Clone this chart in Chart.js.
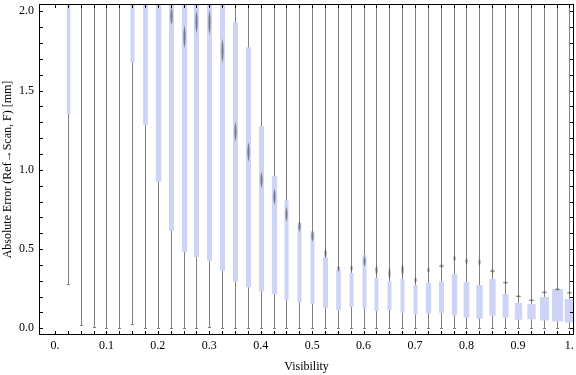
<!DOCTYPE html>
<html>
<head>
<meta charset="utf-8">
<script src="https://cdn.jsdelivr.net/npm/chart.js@4.4.1/dist/chart.umd.min.js"></script>
<style>
  html, body { margin: 0; padding: 0; background: #fff; }
</style>
</head>
<body>
<canvas id="chart" width="576" height="375"></canvas>
<script>
// visibility bins (x position of each box)
const visibility = [0.025, 0.05, 0.075, 0.1, 0.125, 0.15, 0.175, 0.2, 0.225, 0.25,
    0.275, 0.3, 0.325, 0.35, 0.375, 0.4, 0.425, 0.45, 0.475, 0.5,
    0.525, 0.55, 0.575, 0.6, 0.625, 0.65, 0.675, 0.7, 0.725, 0.75,
    0.775, 0.8, 0.825, 0.85, 0.875, 0.9, 0.925, 0.95, 0.975, 1.0];

// whisker ends (mm) - the upper ones all run off the top of the plot
const whiskerLow = [0.28, 0.02, 0.006, 0.003, 0.003, 0.025, 0.003, 0.003, 0.003, 0.003,
    0.002, 0.01, 0.0, 0.0, 0.0, 0.0, 0.0, 0.0, 0.0, 0.0,
    0.0, 0.0, 0.0, 0.0, 0.0, 0.0, 0.0, 0.0, 0.0, 0.0,
    0.0, 0.0, 0.0, 0.0, 0.0, 0.0, 0.0, 0.0, 0.0, 0.0];
const whiskerHigh = [2.5, 2.5, 2.5, 2.5, 2.5, 2.5, 2.5, 2.5, 2.5, 2.5,
    2.5, 2.5, 2.5, 2.5, 2.5, 2.5, 2.5, 2.5, 2.5, 2.5,
    2.5, 2.5, 2.5, 2.5, 2.5, 2.5, 2.5, 2.5, 2.5, 2.5,
    2.5, 2.5, 2.5, 2.5, 2.5, 2.5, 2.5, 2.5, 2.5, 2.5];

// box (lower / upper quartile, mm); null = box lies above the plotted range
const boxLow = [1.35, null, null, null, null, 1.675, 1.284, 0.924, 0.615, 0.483,
    0.451, 0.426, 0.363, 0.294, 0.258, 0.233, 0.216, 0.178, 0.161, 0.153,
    0.13, 0.115, 0.134, 0.126, 0.109, 0.115, 0.098, 0.088, 0.095, 0.098,
    0.082, 0.067, 0.061, 0.08, 0.067, 0.054, 0.057, 0.05, 0.044, 0.038];
const boxHigh = [2.4, null, null, null, null, 2.4, 2.4, 2.4, 2.4, 2.4,
    2.4, 2.4, 2.4, 1.929, 1.772, 1.276, 0.96, 0.809, 0.664, 0.613,
    0.448, 0.368, 0.349, 0.462, 0.319, 0.298, 0.311, 0.273, 0.286, 0.296,
    0.342, 0.292, 0.273, 0.311, 0.216, 0.16, 0.153, 0.197, 0.248, 0.185];

// median marks and their spread (mm)
const median = [null, null, null, null, null, null, null, null, 1.97, 1.839,
    1.933, 1.93, 1.75, 1.24, 1.113, 0.935, 0.83, 0.72, 0.645, 0.584,
    0.473, 0.378, 0.378, 0.424, 0.368, 0.347, 0.368, 0.305, 0.368, 0.393,
    0.441, 0.424, 0.416, 0.361, 0.288, 0.202, 0.177, 0.227, 0.246, 0.224];
const medianSpread = [null, null, null, null, null, null, null, null, 0.057, 0.073,
    0.073, 0.079, 0.079, 0.063, 0.063, 0.053, 0.053, 0.047, 0.037, 0.037,
    0.032, 0.021, 0.021, 0.034, 0.032, 0.042, 0.042, 0.021, 0.021, 0.016,
    0.021, 0.024, 0.026, 0.016, 0.012, 0.008, 0.008, 0.008, 0.008, 0.008];

const xTicks = [0, 0.1, 0.2, 0.3, 0.4, 0.5, 0.6, 0.7, 0.8, 0.9, 1.0];
const xTickLabels = ['0.', '0.1', '0.2', '0.3', '0.4', '0.5', '0.6', '0.7', '0.8', '0.9', '1.'];
const yTicks = [0, 0.5, 1.0, 1.5, 2.0];
const yTickLabels = ['0.0', '0.5', '1.0', '1.5', '2.0'];

// box widths in px (style only)
const boxPx = [3.5, 4, 4, 4, 4, 4, 4.7, 5.5, 5, 5.3, 5, 5, 5, 5, 5, 5, 5.3, 4, 4, 4,
    5, 4.7, 4, 4, 4, 4, 4, 4, 5.3, 5, 5.3, 5.7, 6.3, 6.3, 6, 7.3, 8.3, 9, 11, 9.7];

const boxPlot = {
    id: 'boxPlot',
    beforeDatasetsDraw(chart) {
        const { ctx, chartArea: a, scales: { x, y } } = chart;
        ctx.save();
        ctx.beginPath();
        ctx.rect(a.left, a.top, a.right - a.left, a.bottom - a.top);
        ctx.clip();

        visibility.forEach((v, i) => {
            const cx = Math.round(x.getPixelForValue(v)) + 0.5;
            const lo = Math.round(y.getPixelForValue(whiskerLow[i]));

            // whisker + cap
            ctx.strokeStyle = '#808080';
            ctx.lineWidth = 1;
            ctx.beginPath();
            ctx.moveTo(cx, lo);
            ctx.lineTo(cx, y.getPixelForValue(whiskerHigh[i]));
            ctx.stroke();
            ctx.beginPath();
            ctx.moveTo(cx - 1.5, lo + 0.5);
            ctx.lineTo(cx + 1.5, lo + 0.5);
            ctx.stroke();

            // box
            if (boxLow[i] !== null) {
                const top = y.getPixelForValue(boxHigh[i]);
                const bot = y.getPixelForValue(boxLow[i]);
                ctx.fillStyle = '#cdd4f5';
                ctx.fillRect(cx - boxPx[i] / 2, top, boxPx[i], bot - top);
            }

            // median mark: thin blurred lens
            if (median[i] !== null) {
                const my = y.getPixelForValue(median[i]);
                const hh = Math.max(1.5, y.getPixelForValue(median[i] - medianSpread[i]) - my);
                ctx.filter = 'blur(0.7px)';
                ctx.fillStyle = 'rgba(85, 85, 85, 0.7)';
                ctx.beginPath();
                ctx.moveTo(cx, my - hh);
                ctx.quadraticCurveTo(cx + 2.2, my, cx, my + hh);
                ctx.quadraticCurveTo(cx - 2.2, my, cx, my - hh);
                ctx.fill();
                ctx.filter = 'none';
                if (hh < 3) {
                    ctx.fillStyle = 'rgba(110, 110, 110, 0.8)';
                    ctx.fillRect(cx - 2.5, my - 0.5, 5, 1);
                }
            }
        });
        ctx.restore();
    },
    afterDraw(chart) {
        const { ctx, chartArea: a, scales: { x, y } } = chart;
        const L = Math.round(a.left) + 0.5, R = Math.round(a.right) - 0.5;
        const T = Math.round(a.top) + 0.5, B = Math.round(a.bottom) - 0.5;
        ctx.save();
        ctx.strokeStyle = '#000';
        ctx.lineWidth = 1;
        ctx.strokeRect(L, T, R - L, B - T);

        // inward ticks on every side
        ctx.beginPath();
        [0].concat(visibility).forEach(v => {
            const px = Math.round(x.getPixelForValue(v)) + 0.5;
            ctx.moveTo(px, B); ctx.lineTo(px, B - 3.5);
            ctx.moveTo(px, T); ctx.lineTo(px, T + 3.5);
        });
        for (let t = 0; t <= 20; t++) {
            const py = Math.round(y.getPixelForValue(t / 10)) + 0.5;
            ctx.moveTo(L, py); ctx.lineTo(L + 3.5, py);
            ctx.moveTo(R, py); ctx.lineTo(R - 3.5, py);
        }
        ctx.stroke();
        ctx.restore();
    }
};

Chart.defaults.font.family = '"Liberation Serif", "DejaVu Serif", serif';
Chart.defaults.font.size = 12;
Chart.defaults.color = '#000';

new Chart(document.getElementById('chart'), {
    type: 'scatter',
    data: { datasets: [] },
    options: {
        responsive: false,
        animation: false,
        layout: { padding: { top: 4, right: 2, left: 0, bottom: 0 } },
        plugins: {
            legend: { display: false },
            tooltip: { enabled: false }
        },
        scales: {
            x: {
                type: 'linear',
                min: -0.031,
                max: 1.009,
                grid: { display: false, drawTicks: false },
                border: { display: false },
                afterBuildTicks: s => { s.ticks = xTicks.map(v => ({ value: v })); },
                afterFit: s => { s.height = 40; s.paddingLeft = 0; s.paddingRight = 0; },
                ticks: {
                    autoSkip: false,
                    maxRotation: 0,
                    padding: 4,
                    callback: (val, i) => xTickLabels[i]
                },
                title: {
                    display: true,
                    text: 'Visibility',
                    padding: { top: 0, bottom: 1 }
                }
            },
            y: {
                min: -0.042,
                max: 2.046,
                grid: { display: false, drawTicks: false },
                border: { display: false },
                afterBuildTicks: s => { s.ticks = yTicks.map(v => ({ value: v })); },
                afterFit: s => { s.width = 39; s.paddingTop = 0; s.paddingBottom = 0; },
                ticks: {
                    autoSkip: false,
                    padding: 5,
                    callback: (val, i) => yTickLabels[i]
                },
                title: {
                    display: true,
                    text: 'Absolute Error (Ref\u2192Scan, F) [mm]',
                    padding: { top: 1, bottom: 0 }
                }
            }
        }
    },
    plugins: [boxPlot]
});
</script>
</body>
</html>
